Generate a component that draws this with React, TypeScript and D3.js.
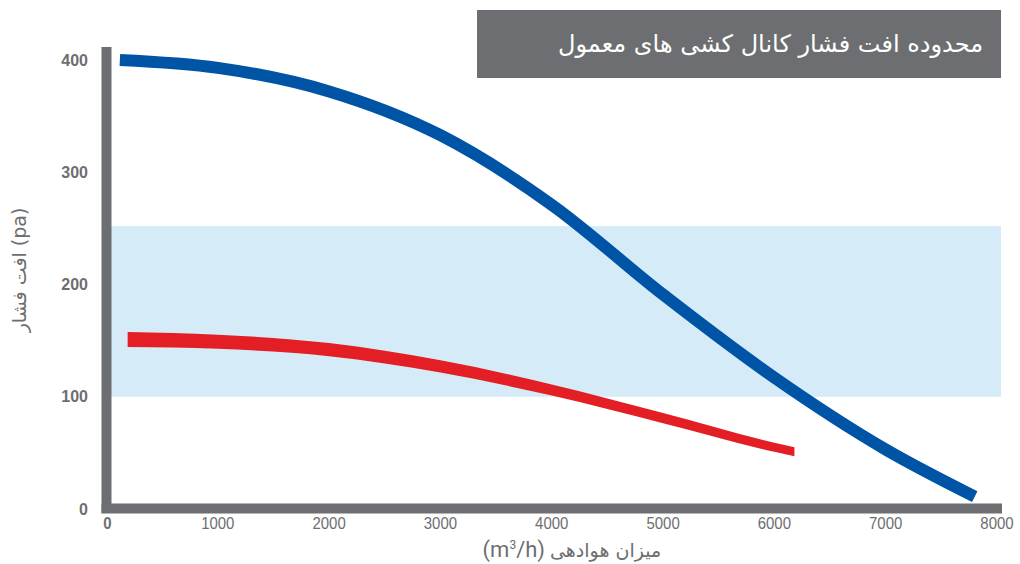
import React from "react";
import * as d3 from "d3";

const title = "محدوده افت فشار کانال کشی های معمول";
const xTitleFa = "میزان هوادهی";
const yTitle = "افت فشار (pa)";

const xTicks = [0, 1000, 2000, 3000, 4000, 5000, 6000, 7000, 8000];
const yTicks = [0, 100, 200, 300, 400];

const bandRange = [100, 252];

const blueFlow = [120, 1000, 2000, 3000, 4000, 5000, 6000, 7000, 7800];
const bluePressure = [400, 393, 372, 333, 271, 191, 117, 53, 11];

const redFlow = [190, 1000, 2000, 3000, 4000, 5000, 6000, 6180];
const redPressure = [151, 149, 142, 127, 106, 81, 55, 51];

const W = 1020;
const H = 564;
const GRAY = "#6d6e71";

export default function App() {
  const x = d3.scaleLinear().domain([0, 8000]).range([106.5, 997]);
  const y = d3.scaleLinear().domain([0, 400]).range([509, 60]);

  const blue = blueFlow.map((f, i) => ({ f, p: bluePressure[i] }));
  const red = redFlow.map((f, i) => ({ f, p: redPressure[i] }));

  const line = d3
    .line<{ f: number; p: number }>()
    .x((d) => x(d.f))
    .y((d) => y(d.p))
    .curve(d3.curveMonotoneX);

  const redW = d3
    .scaleLinear()
    .domain([redFlow[0], redFlow[redFlow.length - 1]])
    .range([15, 9]);
  const redArea = d3
    .area<{ f: number; p: number }>()
    .x((d) => x(d.f))
    .y0((d) => y(d.p) - redW(d.f) / 2)
    .y1((d) => y(d.p) + redW(d.f) / 2)
    .curve(d3.curveMonotoneX);

  return (
    <svg
      width={W}
      height={H}
      style={{ position: "absolute", left: 0, top: 0 }}
      viewBox={`0 0 ${W} ${H}`}
    >
      <rect width={W} height={H} fill="#fff" />
      {/* band */}
      <rect
        x={111}
        y={y(bandRange[1])}
        width={1001 - 111}
        height={y(bandRange[0]) - y(bandRange[1])}
        fill="#d5ebf8"
      />
      {/* axes bars */}
      <rect x={101.5} y={47} width={10} height={513 - 47} fill={GRAY} />
      <rect x={101.5} y={503.5} width={1002 - 101.5} height={10} fill={GRAY} />

      {/* curves */}
      <path d={redArea(red) || ""} fill="#e31e24" />
      <path
        d={line(blue) || ""}
        fill="none"
        stroke="#0054a6"
        strokeWidth={12}
        strokeLinecap="butt"
      />

      {/* y ticks */}
      {yTicks.map((t) => (
        <text
          key={t}
          x={88}
          y={y(t)}
          dy="0.35em"
          textAnchor="end"
          fontFamily="Liberation Sans, Arial, sans-serif"
          fontWeight="bold"
          fontSize={16}
          fill={GRAY}
        >
          {t}
        </text>
      ))}
      {/* x ticks */}
      {xTicks.map((t) => (
        <text
          key={t}
          x={t === 0 ? x(t) + 1 : x(t)}
          y={529}
          textAnchor="middle"
          fontFamily="Liberation Sans Narrow, Liberation Sans, Arial, sans-serif"
          fontWeight={t === 0 ? "bold" : "normal"}
          fontSize={17}
          fill={GRAY}
          transform={`translate(${x(t)},0) scale(0.88,1) translate(${-x(t)},0)`}
        >
          {t}
        </text>
      ))}

      {/* x title */}
      <text
        x={545}
        y={557}
        textAnchor="end"
        fontFamily="Roboto, Liberation Sans, sans-serif"
        fontSize={22}
        fill={GRAY}
      >
        (m
        <tspan dy={-8} fontSize={12}>
          3
        </tspan>
        <tspan dy={8}>/h)</tspan>
      </text>
      <text
        x={550}
        y={557}
        textAnchor="end"
        fontFamily="DejaVu Sans, sans-serif"
        fontSize={19}
        fill={GRAY}
        direction="rtl"
      >
        {xTitleFa}
      </text>

      {/* y title */}
      <text
        transform="translate(26,270) rotate(-90)"
        textAnchor="middle"
        fontFamily="DejaVu Sans, sans-serif"
        fontSize={19}
        fill={GRAY}
      >
        {yTitle}
      </text>

      {/* title box */}
      <rect x={477} y={10} width={1001 - 477} height={68} fill={GRAY} />
      <text
        x={983}
        y={52}
        textAnchor="start"
        direction="rtl"
        fontFamily="DejaVu Sans, sans-serif"
        fontSize={24}
        fill="#fff"
      >
        {title}
      </text>
    </svg>
  );
}
